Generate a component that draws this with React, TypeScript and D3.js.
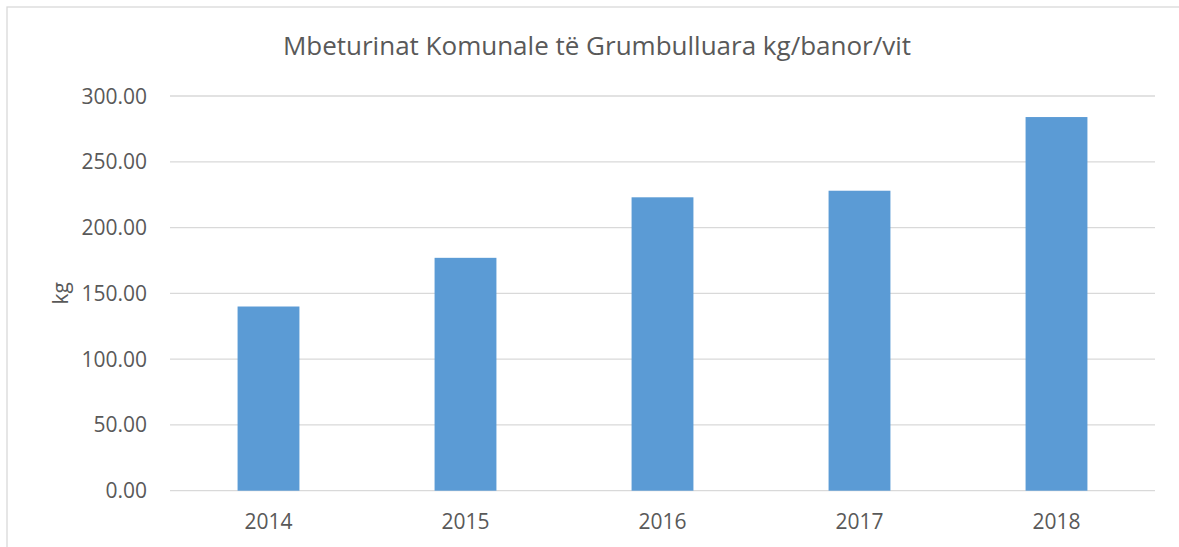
import React from "react";
import * as d3 from "d3";

const years = ["2014", "2015", "2016", "2017", "2018"];
const values = [140, 177, 223, 228, 284];
const yTicks = [0, 50, 100, 150, 200, 250, 300];
const title = "Mbeturinat Komunale të Grumbulluara kg/banor/vit";
const yLabel = "kg";

const W = 1179;
const H = 547;
const FONT = "'Open Sans', 'Noto Sans', sans-serif";

export default function App() {
  const x = d3
    .scaleBand<string>()
    .domain(years)
    .range([170, 1155])
    .paddingInner(0.686)
    .paddingOuter(0.343);
  const y = d3.scaleLinear().domain([0, 300]).range([490.7, 96]);

  return (
    <svg
      width={W}
      height={H}
      style={{ position: "absolute", left: 0, top: 0, background: "#fff" }}
    >
      <rect x={7} y={7} width={W + 20} height={H + 20} fill="#fff" stroke="#D9D9D9" strokeWidth={1.3} />
      <text
        x={597}
        y={55}
        textAnchor="middle"
        fontFamily={FONT}
        fontSize={26}
        fill="#595959"
      >
        {title}
      </text>
      {yTicks.map((t) => (
        <g key={t}>
          <line x1={170} x2={1155} y1={y(t)} y2={y(t)} stroke="#D9D9D9" strokeWidth={1.3} />
          <text
            x={147}
            y={y(t)}
            dy="0.36em"
            textAnchor="end"
            fontFamily={FONT}
            fontSize={21}
            fill="#595959"
          >
            {d3.format(".2f")(t)}
          </text>
        </g>
      ))}
      {years.map((yr, i) => (
        <rect
          key={yr}
          x={x(yr)}
          y={y(values[i])}
          width={x.bandwidth()}
          height={y(0) - y(values[i])}
          fill="#5B9BD5"
        />
      ))}
      {years.map((yr) => (
        <text
          key={yr}
          x={(x(yr) as number) + x.bandwidth() / 2}
          y={529}
          textAnchor="middle"
          fontFamily={FONT}
          fontSize={21}
          fill="#595959"
        >
          {yr}
        </text>
      ))}
      <text
        transform={`translate(68,${(y(0) + y(300)) / 2}) rotate(-90)`}
        textAnchor="middle"
        fontFamily={FONT}
        fontSize={21}
        fill="#595959"
      >
        {yLabel}
      </text>
    </svg>
  );
}
